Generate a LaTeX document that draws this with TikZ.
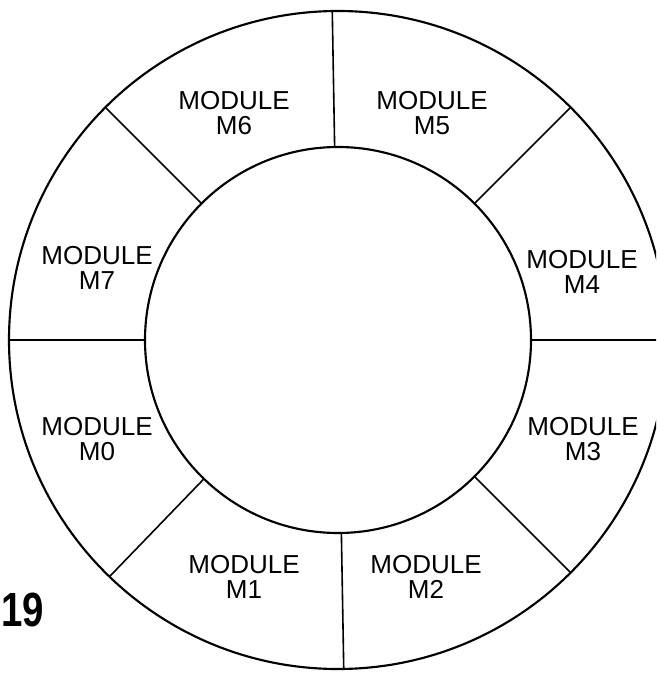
\documentclass[tikz,border=0pt]{standalone}
\usepackage{fontspec}
\usepackage{graphicx}
\setmainfont{Liberation Sans}
\begin{document}
\begin{tikzpicture}[x=0.75pt,y=-0.75pt,
  ring/.style={circle,draw,line width=1.6pt,inner sep=0pt,outer sep=0pt},
  divider/.style={draw,line width=1.2pt},
  modlabel/.style={align=center,inner sep=0pt,font=\fontsize{19.5}{18.75}\selectfont}]
\useasboundingbox (0,0) rectangle (656,673);
\clip (0,0) rectangle (656,673);
\coordinate (C) at (338,340);
\node[ring,minimum size=493.5pt] (outer) at (C) {};
\node[ring,minimum size=289.5pt] (inner) at (C) {};
\foreach \a in {0,45,91,135,180,226,271,315}
  \draw[divider] (inner.\a) -- (outer.\a);
\node[modlabel] (m6) at (234,113) {MODULE\\M6};
\node[modlabel] (m5) at (432,113) {MODULE\\M5};
\node[modlabel] (m4) at (582,272) {MODULE\\M4};
\node[modlabel] (m3) at (583,439) {MODULE\\M3};
\node[modlabel] (m2) at (426,577) {MODULE\\M2};
\node[modlabel] (m1) at (244,577) {MODULE\\M1};
\node[modlabel] (m0) at (97,439) {MODULE\\M0};
\node[modlabel] (m7) at (97,268) {MODULE\\M7};
\node[anchor=west,inner sep=0pt,font=\bfseries\fontsize{36}{36}\selectfont] (fig) at (1,610) {\scalebox{0.8}[1]{19}};
\end{tikzpicture}
\end{document}
